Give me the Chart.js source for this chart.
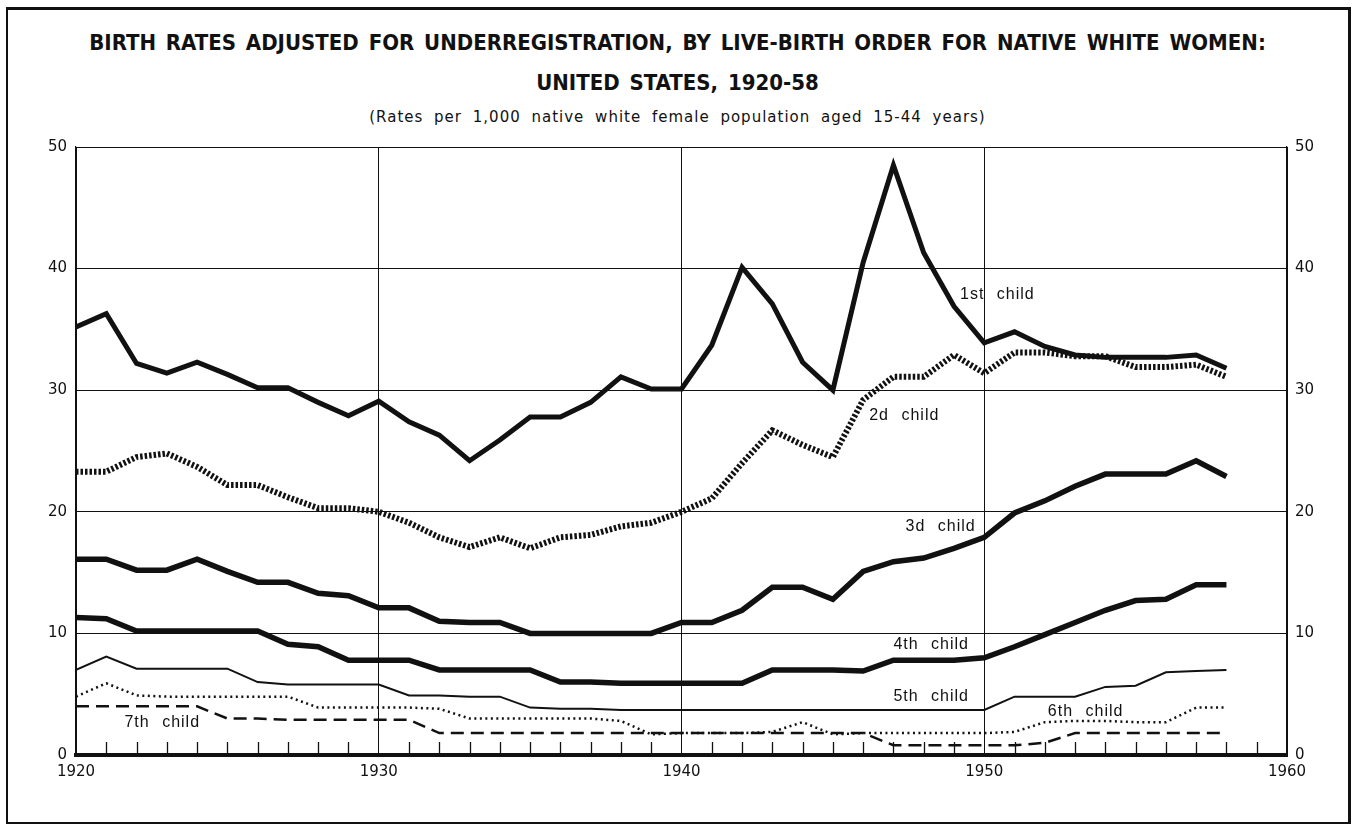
<!DOCTYPE html>
<html>
<head>
<meta charset="utf-8">
<script src="https://cdn.jsdelivr.net/npm/chart.js@4.4.0/dist/chart.umd.min.js"></script>
<style>
  body { margin: 0; background: #fff; }
  #wrap { position: relative; width: 1355px; height: 826px; overflow: hidden; }
  #frame { position: absolute; left: 6px; top: 7px; width: 1340px; height: 812px; border: 2px solid #111; border-right-width: 3px; border-top-width: 3px; }
  #title { position: absolute; left: 0; top: 23px; width: 1355px; text-align: center; color: #111;
    font-family: 'DejaVu Sans Condensed', 'DejaVu Sans'; font-stretch: condensed; font-weight: bold;
    font-size: 22px; line-height: 40px; word-spacing: 3px; }
  #subtitle { position: absolute; left: 0; top: 108px; width: 1355px; text-align: center; color: #111;
    font-family: 'DejaVu Sans'; font-size: 15px; letter-spacing: 1px; word-spacing: 5px; }
  canvas { position: absolute; left: 0; top: 0; }
</style>
</head>
<body>
<div id="wrap">
  <div id="frame"></div>
  <div id="title">BIRTH RATES ADJUSTED FOR UNDERREGISTRATION, BY LIVE-BIRTH ORDER FOR NATIVE WHITE WOMEN:<br>UNITED STATES, 1920-58</div>
  <div id="subtitle">(Rates per 1,000 native white female population aged 15-44 years)</div>
  <canvas id="chart" width="1355" height="826"></canvas>
</div>
<script>
// years 1920-58
var years = [1920, 1921, 1922, 1923, 1924, 1925, 1926, 1927, 1928, 1929,
             1930, 1931, 1932, 1933, 1934, 1935, 1936, 1937, 1938, 1939,
             1940, 1941, 1942, 1943, 1944, 1945, 1946, 1947, 1948, 1949,
             1950, 1951, 1952, 1953, 1954, 1955, 1956, 1957, 1958];

var firstChild = [35.2, 36.3, 32.2, 31.4, 32.3, 31.3, 30.2, 30.2, 29.0, 27.9,
                  29.1, 27.4, 26.3, 24.2, 25.9, 27.8, 27.8, 29.0, 31.1, 30.1,
                  30.1, 33.7, 40.1, 37.1, 32.3, 30.0, 40.5, 48.5, 41.3, 36.9,
                  33.9, 34.8, 33.6, 32.9, 32.7, 32.7, 32.7, 32.9, 31.8];
var secondChild = [23.3, 23.3, 24.5, 24.8, 23.7, 22.2, 22.2, 21.2, 20.3, 20.3,
                   20.0, 19.1, 17.9, 17.1, 17.9, 17.0, 17.9, 18.1, 18.8, 19.1,
                   20.0, 21.1, 24.0, 26.7, 25.5, 24.5, 29.2, 31.1, 31.1, 32.9,
                   31.4, 33.1, 33.1, 32.8, 32.8, 31.9, 31.9, 32.1, 31.1];
var thirdChild = [16.1, 16.1, 15.2, 15.2, 16.1, 15.1, 14.2, 14.2, 13.3, 13.1,
                  12.1, 12.1, 11.0, 10.9, 10.9, 10.0, 10.0, 10.0, 10.0, 10.0,
                  10.9, 10.9, 11.9, 13.8, 13.8, 12.8, 15.1, 15.9, 16.2, 17.0,
                  17.9, 19.9, 20.9, 22.1, 23.1, 23.1, 23.1, 24.2, 22.9];
var fourthChild = [11.3, 11.2, 10.2, 10.2, 10.2, 10.2, 10.2, 9.1, 8.9, 7.8,
                   7.8, 7.8, 7.0, 7.0, 7.0, 7.0, 6.0, 6.0, 5.9, 5.9,
                   5.9, 5.9, 5.9, 7.0, 7.0, 7.0, 6.9, 7.8, 7.8, 7.8,
                   8.0, 8.9, 9.9, 10.9, 11.9, 12.7, 12.8, 14.0, 14.0];
var fifthChild = [7.0, 8.1, 7.1, 7.1, 7.1, 7.1, 6.0, 5.8, 5.8, 5.8,
                  5.8, 4.9, 4.9, 4.8, 4.8, 3.9, 3.8, 3.8, 3.7, 3.7,
                  3.7, 3.7, 3.7, 3.7, 3.7, 3.7, 3.7, 3.7, 3.7, 3.7,
                  3.7, 4.8, 4.8, 4.8, 5.6, 5.7, 6.8, 6.9, 7.0];
var sixthChild = [4.8, 5.9, 4.9, 4.8, 4.8, 4.8, 4.8, 4.8, 3.9, 3.9,
                  3.9, 3.9, 3.8, 3.0, 3.0, 3.0, 3.0, 3.0, 2.8, 1.7,
                  1.8, 1.8, 1.8, 1.9, 2.7, 1.7, 1.8, 1.8, 1.8, 1.8,
                  1.8, 1.9, 2.7, 2.8, 2.8, 2.7, 2.7, 3.9, 3.9];
var seventhChild = [4.0, 4.0, 4.0, 4.0, 4.0, 3.0, 3.0, 2.9, 2.9, 2.9,
                    2.9, 2.9, 1.8, 1.8, 1.8, 1.8, 1.8, 1.8, 1.8, 1.8,
                    1.8, 1.8, 1.8, 1.8, 1.8, 1.8, 1.8, 0.8, 0.8, 0.8,
                    0.8, 0.8, 1.0, 1.8, 1.8, 1.8, 1.8, 1.8, 1.8];

var yTicks = [0, 10, 20, 30, 40, 50];
var xTicks = [1920, 1930, 1940, 1950, 1960];

// series labels, anchored in data units (left edge, middle)
var labelTexts = ['1st child', '2d child', '3d child', '4th child', '5th child', '6th child', '7th child'];
var labelYears = [1949.2, 1946.2, 1947.4, 1947.0, 1947.0, 1952.1, 1921.6];
var labelValues = [37.9, 27.9, 18.8, 9.1, 4.8, 3.6, 2.7];

function pts(vals) {
  return vals.map(function(v, i) { return { x: years[i], y: v }; });
}

var ink = '#111';
var tickFont = { family: 'DejaVu Sans', size: 15 };

var minorTicks = {
  id: 'minorTicks',
  beforeDatasetsDraw: function(chart) {
    var ctx = chart.ctx, xs = chart.scales.x, base = chart.chartArea.bottom;
    ctx.save();
    ctx.strokeStyle = ink;
    ctx.lineWidth = 1.3;
    for (var yr = xs.min + 1; yr < xs.max; yr++) {
      if (yr % 10 === 0) continue;
      var px = Math.round(xs.getPixelForValue(yr)) + 0.5;
      ctx.beginPath();
      ctx.moveTo(px, base);
      ctx.lineTo(px, base - 13);
      ctx.stroke();
    }
    ctx.restore();
  }
};

var seriesLabels = {
  id: 'seriesLabels',
  afterDatasetsDraw: function(chart) {
    var ctx = chart.ctx, xs = chart.scales.x, ys = chart.scales.y;
    ctx.save();
    ctx.fillStyle = ink;
    ctx.font = '16px "Liberation Sans", Arial, sans-serif';
    ctx.textAlign = 'left';
    ctx.textBaseline = 'middle';
    ctx.letterSpacing = '1px';
    ctx.wordSpacing = '7px';
    for (var i = 0; i < labelTexts.length; i++) {
      ctx.fillText(labelTexts[i], xs.getPixelForValue(labelYears[i]), ys.getPixelForValue(labelValues[i]));
    }
    ctx.restore();
  }
};

function series(label, vals, width, dash) {
  return {
    label: label,
    data: pts(vals),
    borderColor: ink,
    backgroundColor: ink,
    borderWidth: width,
    borderDash: dash || [],
    borderJoinStyle: 'miter',
    borderCapStyle: 'butt',
    pointRadius: 0,
    tension: 0,
    fill: false
  };
}

new Chart(document.getElementById('chart'), {
  type: 'line',
  data: {
    datasets: [
      series('1st child', firstChild, 5),
      series('2d child', secondChild, 6, [2.5, 2]),
      series('3d child', thirdChild, 5.5),
      series('4th child', fourthChild, 5.5),
      series('5th child', fifthChild, 2),
      series('6th child', sixthChild, 2.5, [2, 3.5]),
      series('7th child', seventhChild, 2.5, [13, 7])
    ]
  },
  plugins: [minorTicks, seriesLabels],
  options: {
    responsive: false,
    animation: false,
    layout: { padding: { top: 147, bottom: 31, left: 0, right: 0 } },
    plugins: { legend: { display: false }, tooltip: { enabled: false } },
    scales: {
      x: {
        type: 'linear',
        min: 1920,
        max: 1960,
        afterBuildTicks: function(s) { s.ticks = xTicks.map(function(v) { return { value: v }; }); },
        afterFit: function(s) { s.height = 40; },
        ticks: { color: ink, font: tickFont, padding: 8, maxRotation: 0, callback: function(v) { return String(v); } },
        grid: { color: ink, lineWidth: 1, drawTicks: false },
        border: { color: ink, width: 4 }
      },
      y: {
        position: 'left',
        min: 0,
        max: 50,
        afterBuildTicks: function(s) { s.ticks = yTicks.map(function(v) { return { value: v }; }); },
        afterFit: function(s) { s.width = 76; },
        ticks: { color: ink, font: tickFont, padding: 9 },
        grid: { color: ink, lineWidth: 1, drawTicks: false },
        border: { color: ink, width: 1.2 }
      },
      y2: {
        position: 'right',
        min: 0,
        max: 50,
        afterBuildTicks: function(s) { s.ticks = yTicks.map(function(v) { return { value: v }; }); },
        afterFit: function(s) { s.width = 68; },
        ticks: { color: ink, font: tickFont, padding: 8 },
        grid: { display: false, drawTicks: false },
        border: { color: ink, width: 1.2 }
      }
    }
  }
});
</script>
</body>
</html>
